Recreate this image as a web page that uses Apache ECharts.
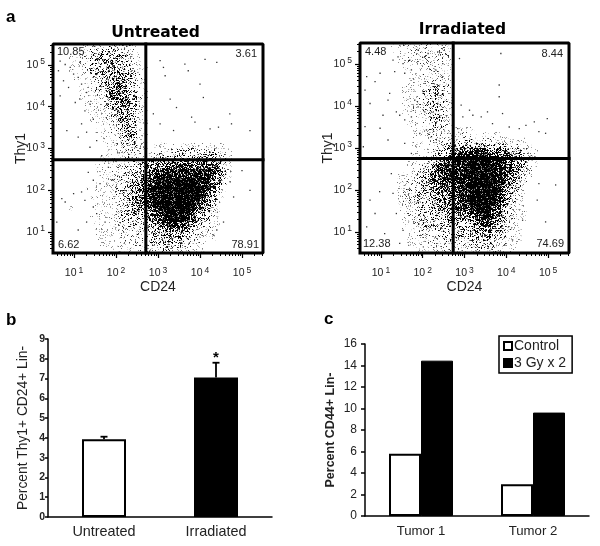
<!DOCTYPE html>
<html><head><meta charset="utf-8">
<style>html,body{margin:0;padding:0;background:#fff}#c{width:600px;height:546px}</style>
<script src="https://cdn.jsdelivr.net/npm/echarts@6/dist/echarts.min.js"></script>
</head><body><div id="c"></div>
<script>
// Density of the flow plots, read by eye: 40 x 40 cells, 1/8 decade each, top row first, ink level 0-9
const densityUntreated = [
"0000011223 3322211000 0000000000 0000000000",
"0000112334 3433221000 0000000000 0000000000",
"0001122344 4443321000 0000000000 0000000000",
"0001122344 4544321000 0000000000 0000000000",
"0001112344 5544321100 0000000000 0000000000",
"0001112334 4554432100 0000000000 0000000000",
"0000111233 4555432100 0000000000 0000000000",
"0000011223 4565432100 0000000000 0000000000",
"0000011133 5666432100 0000000000 0000000000",
"0000011123 4666532100 0000000000 0000000000",
"0000011122 4566542100 0000000000 0000000000",
"0000001112 3456542100 0000000000 0000000000",
"0000001112 2455542100 0000000000 0000000000",
"0000001111 2345541100 0000000000 0000000000",
"0000000111 2245442100 0000000000 0000000000",
"0000000011 1234541100 0000000000 0000000000",
"0000000011 1234541100 0000000000 0000000000",
"0000000001 1134541100 0000000000 0000000000",
"0000000001 1123441100 1000000000 0000000000",
"0000000000 1123332101 1111111111 1110000000",
"0000000000 1122322112 2223333333 3211000000",
"0000000001 1122322222 3334444444 4321000000",
"0000000001 1112233344 5666666666 6531000000",
"0000000011 1123334456 6777777777 7531000000",
"0000000011 1223344467 7888888888 8642000000",
"0000000011 1233444578 8888888888 7531000000",
"0000000011 1223345688 9999999988 6531000000",
"0000001011 1233446689 9999999998 6420000000",
"0000000011 1233456789 9999999987 5310000000",
"0000000111 1223456789 9999999986 4310000000",
"0000000011 1223456789 9999999875 3100000000",
"0001000011 1123445678 9999999764 2100000000",
"0000000011 1123344567 8999998653 2100000000",
"0000000111 1223334456 7899987543 1100000000",
"0000000111 1122333345 6777765432 1100000000",
"0000000011 1122223344 5566654322 1000000000",
"0000000011 1112223334 4455543321 1000000000",
"0000000011 1112222233 4444432211 1000000000",
"0000000001 1111122222 3333322110 0000000000",
"0000000000 1111112222 2332221110 0000000000"
];
const densityIrradiated = [
"0000001122 2222222100 0000000000 0000000000",
"0000001112 2222222100 0000000000 0000000000",
"0000000112 2222222100 0000000000 0000000000",
"0000000112 1222221100 0000000000 0000000000",
"0000000011 1112221100 0000000000 0000000000",
"0000000011 1112221100 0000000000 0000000000",
"0000000001 1122222100 0000000000 0000000000",
"0000000001 1122222100 0000000000 0000000000",
"0000000011 1123333100 0000000000 0000000000",
"0000000011 1133332100 0000000000 0000000000",
"0000000011 1233432100 0000000000 0000000000",
"0000000011 2233432100 0000000000 0000000000",
"0000000011 2233432100 0000000000 0000000000",
"0000000011 1233332100 0000000000 0000000000",
"0000000001 1123332100 0000000000 0000000000",
"0000000001 1122332100 0000000000 0000000000",
"0000000000 1122332111 1100000000 0000000000",
"0000000000 1112222112 2211111000 0000000000",
"0000000000 1112222223 3322221111 1100000000",
"0000000000 1111223334 4444443322 2110000000",
"0000000000 0111234566 6777666544 3211000000",
"0000000000 1111345678 8888877665 4321000000",
"0000000001 1122457788 8999988876 5421000000",
"0000000001 1234678888 9999998876 6421000000",
"0000000011 1245678888 9999998876 5320000000",
"0000000112 2345678888 9999998865 4210000000",
"0000000112 2345677788 8999998864 3200000000",
"0000000122 3344667778 8999999754 3100000000",
"0000000123 3344566778 8999999754 2100000000",
"0000000123 3334566678 8999998643 2100000000",
"0000000122 3334456678 8999998633 1100000000",
"0000000112 2334456677 7999987432 1100000000",
"0000000012 2334445566 6789976432 1100000000",
"0000000012 2333445555 5678765332 1100000000",
"0000000011 2233334444 4567764321 1000000000",
"0000000011 1223333334 4556654321 1000000000",
"0000000001 1222233334 3445544321 1000000000",
"0000000001 1122223333 3344443211 1000000000",
"0000000001 1112222222 2333332211 0000000000",
"0000000000 1112222221 2223222111 0000000000"
];
// Individually legible events, [log10 CD24, log10 Thy1]
const eventsUntreated = [
[0.67,5.09],[0.79,5.01],[0.63,4.86],[0.91,4.94],[0.99,4.78],[0.75,4.62],[1.10,4.70],[1.18,4.54],[0.87,4.46],[1.30,4.34],[1.14,4.18],[1.03,4.10],[1.38,4.06],[1.26,3.90],[1.46,3.70],[1.18,3.59],[0.83,3.43],[1.30,3.39],[1.10,3.27],[1.54,3.19],[1.38,3.03],[1.66,2.83],[0.67,4.26],
[3.64,5.02],[3.72,4.86],[4.12,5.13],[4.40,5.06],[3.13,4.94],[3.17,4.74],[3.05,5.10],[4.00,4.54],[4.08,4.22],[3.29,4.18],[3.44,3.98],[3.80,3.75],[3.88,3.63],[4.71,3.83],[4.75,3.59],[5.19,3.43],[4.24,3.47],[4.44,3.51],[3.37,3.43],[3.05,3.59],[2.89,3.83],
[0.59,1.24],[0.71,1.80],[0.99,1.92],[1.18,1.96],[1.26,1.76],[0.79,1.72],[1.34,2.43],[1.46,2.24],[1.62,2.16],[1.46,1.60],[1.30,1.24],[1.54,1.44],[1.74,1.24],[1.10,1.05],[1.82,2.55],[1.90,2.24],
[5.19,2.00],[4.72,2.20],[5.00,2.47],[4.56,1.24],[4.40,1.05],[4.32,0.93],[4.80,1.84]
];
const eventsIrradiated = [
[0.66,4.70],[0.86,4.58],[0.98,4.78],[1.29,5.09],[1.41,5.17],[1.53,5.01],[1.69,5.09],[1.89,5.33],[2.13,5.25],[2.36,5.29],[2.48,5.01],[1.57,4.78],[1.73,4.86],[1.33,4.82],[1.21,4.30],[0.62,4.38],[0.74,4.06],[1.17,4.14],[1.05,3.78],[1.37,3.86],[1.45,3.78],[1.57,3.67],[1.73,3.74],[1.89,3.98],[2.05,3.86],[2.21,3.86],[2.28,4.46],[2.17,4.38],[2.01,4.30],[1.81,4.14],[2.36,4.06],[2.32,3.59],[2.09,3.43],[1.93,3.35],[2.21,3.27],[1.57,3.11],[1.73,2.87],[1.17,3.19],[0.98,3.47],[0.62,3.51],[0.58,3.03],
[3.87,5.25],[2.88,5.13],[3.83,4.50],[3.83,4.22],[2.92,4.02],[3.12,3.90],[3.55,3.86],[3.40,3.74],[3.91,3.82],[2.96,3.74],[3.20,3.78],[4.98,3.70],[4.67,3.62],[4.31,3.46],[4.47,3.54],[4.78,3.39],[4.94,3.35],[3.67,3.58],[4.07,3.50],[2.84,3.46],
[5.18,2.12],[4.94,1.24],[4.78,2.15],[4.74,1.76],[4.39,1.28],[4.15,0.81],
[0.97,1.96],[0.74,1.76],[0.86,1.44],[0.66,1.12],[1.29,1.92],[1.25,2.39],[1.09,0.96],[1.45,0.73],[1.37,1.44],[1.53,1.04]
];
const gatesUntreated = [513, 537];
const gatesIrradiated = [537, 562];
const quadrantUntreated = ["10.85","3.61","6.62","78.91"];
const quadrantIrradiated = ["4.48","8.44","12.38","74.69"];
const flowRange = [3.162, 316228];
const flowMajor = [10,100,1000,10000,100000];
const flowMinor = [4,5,6,7,8,9,20,30,40,50,60,70,80,90,200,300,400,500,600,700,800,900,2000,3000,4000,5000,6000,7000,8000,9000,20000,30000,40000,50000,60000,70000,80000,90000,200000,300000];

const barCategories = ["Untreated","Irradiated"];
const barValues = [3.93,7.05];
const barErrorTops = [4.06,7.8];
const barMarks = ["","*"];
const barColors = ["#ffffff","#000000"];

const tumorCategories = ["Tumor 1","Tumor 2"];
const tumorControl = [5.78,2.96];
const tumorDosed = [14.45,9.62];

const FONT = '"Liberation Sans", Arial, sans-serif';
const INK = '#222';

// Ink coverage of each density level, drawn through a fixed halftone screen (texture only, not data)
const levelCoverage = [0,0.05,0.12,0.21,0.31,0.42,0.55,0.71,0.86,0.98];
const SCREEN_SIZE = 256;
const screenTile = new Float32Array(SCREEN_SIZE*SCREEN_SIZE);
for(let y=0;y<SCREEN_SIZE;y++)for(let x=0;x<SCREEN_SIZE;x++){
  const s=Math.sin(x*12.9898+y*78.233)*43758.5453;
  screenTile[y*SCREEN_SIZE+x]=s-Math.floor(s);
}
function halftoneTile(cov){
  const n=SCREEN_SIZE, cv=document.createElement('canvas'); cv.width=cv.height=n;
  const ctx=cv.getContext('2d'), im=ctx.createImageData(n,n);
  for(let y=0;y<n;y++)for(let x=0;x<n;x++){
    const ink=Math.max(0,Math.min(1,(cov-screenTile[y*n+x])/0.22+0.35));
    const g=Math.round(255*(1-ink)), i=(y*n+x)*4;
    im.data[i]=im.data[i+1]=im.data[i+2]=g; im.data[i+3]=255;
  }
  ctx.putImageData(im,0,0);
  return cv;
}
const tiles=levelCoverage.map(c=>c?{image:halftoneTile(c),repeat:'repeat'}:null);

function cellsOf(rows){
  const out=[];
  rows.forEach((s,r)=>{
    s.replace(/ /g,'').split('').forEach((ch,c)=>{
      const lv=+ch; if(!lv) return;
      const xa=0.5+c*0.125, yb=5.5-(r+1)*0.125;
      out.push([10**xa,10**yb,10**(xa+0.125),10**(yb+0.125),lv]);
    });
  });
  return out;
}
function renderCell(params,api){
  const a=api.coord([api.value(0),api.value(1)]), b=api.coord([api.value(2),api.value(3)]);
  const x=Math.round(a[0]), y=Math.round(b[1]);
  return {type:'rect',shape:{x:x,y:y,width:Math.round(b[0])-x,height:Math.round(a[1])-y},style:{fill:tiles[api.value(4)]}};
}
function flowAxes(idx){
  const sup={b:{fontSize:10.5,color:INK,fontFamily:FONT},s:{fontSize:8.5,color:INK,fontFamily:FONT,verticalAlign:'bottom',padding:[0,0,6,2]}};
  const fmt=v=>`{b|10}{s|${Math.round(Math.log10(v))}}`;
  const base={type:'log',logBase:10,min:flowRange[0],max:flowRange[1],gridIndex:idx,splitLine:{show:false},
    axisLine:{show:true,lineStyle:{color:'#000',width:1}}};
  const major=(name,gap,margin)=>Object.assign({},base,{name,nameLocation:'middle',nameGap:gap,nameMoveOverlap:false,
    nameTextStyle:{fontFamily:FONT,fontSize:14,color:INK},
    axisTick:{length:5,lineStyle:{color:'#000',width:1.2},customValues:flowMajor},
    axisLabel:{customValues:flowMajor,formatter:fmt,rich:sup,margin,fontFamily:FONT,showMinLabel:true,showMaxLabel:true}});
  const minor=pos=>Object.assign({},base,{position:pos,axisLabel:{show:false},axisTick:{length:3,lineStyle:{color:'#000',width:1},customValues:flowMinor}});
  return {x:[Object.assign(major('CD24',27,13),{position:'bottom'}),minor('bottom')],y:[Object.assign(major('Thy1',25,8),{position:'left'}),minor('left')]};
}
const A0=flowAxes(0), A1=flowAxes(1);
function flowSeries(axisBase,rows,events,gates){
  const xi=axisBase, yi=axisBase;
  const ev=events.map(p=>[10**p[0],10**p[1]]);
  const line=(data)=>({type:'line',xAxisIndex:xi,yAxisIndex:yi,data,symbol:'none',silent:true,z:5,clip:false,animation:false,lineStyle:{color:'#000',width:3,cap:'square'}});
  const lo=flowRange[0], hi=flowRange[1];
  return [
    {type:'custom',xAxisIndex:xi,yAxisIndex:yi,data:cellsOf(rows),renderItem:renderCell,encode:{x:[0,2],y:[1,3]},clip:true,silent:true,z:1,animation:false},
    {type:'scatter',xAxisIndex:xi,yAxisIndex:yi,data:ev,symbol:'rect',symbolSize:1.3,itemStyle:{color:'#000'},silent:true,z:3,animation:false},
    line([[gates[0],lo],[gates[0],hi]]),
    line([[lo,gates[1]],[hi,gates[1]]]),
    line([[lo,lo],[hi,lo],[hi,hi],[lo,hi],[lo,lo]])
  ];
}
const txt=(x,y,t,o)=>({type:'text',x,y,z:20,style:Object.assign({text:t,fill:INK,font:`11px ${FONT}`,textVerticalAlign:'middle'},o||{})});
const graphics=[
  txt(6,17,'a',{font:`bold 17px ${FONT}`,fill:'#000'}),
  txt(6,320,'b',{font:`bold 17px ${FONT}`,fill:'#000'}),
  txt(324,319,'c',{font:`bold 17px ${FONT}`,fill:'#000'}),
  txt(155.5,33,'Untreated',{font:`bold 15.5px "DejaVu Sans"`,fill:'#000',textAlign:'center'}),
  txt(462.5,30,'Irradiated',{font:`bold 15.5px "DejaVu Sans"`,fill:'#000',textAlign:'center'}),
  txt(57,52,quadrantUntreated[0]),txt(257,54,quadrantUntreated[1],{textAlign:'right'}),
  txt(58,245,quadrantUntreated[2]),txt(259,245,quadrantUntreated[3],{textAlign:'right'}),
  txt(365,52,quadrantIrradiated[0]),txt(563,54,quadrantIrradiated[1],{textAlign:'right'}),
  txt(363,244,quadrantIrradiated[2]),txt(564,244,quadrantIrradiated[3],{textAlign:'right'})
];
const plainAxis={axisLine:{lineStyle:{color:'#000',width:1.5}},splitLine:{show:false}};
const option={
  animation:false,backgroundColor:'#fff',textStyle:{fontFamily:FONT},
  grid:[
    {left:53,top:44,width:210,height:209},
    {left:360,top:43,width:209,height:210},
    {left:48,top:339,width:224,height:178},
    {left:365,top:344,width:224,height:172}
  ],
  xAxis:[A0.x[0],A0.x[1],A1.x[0],A1.x[1],
    Object.assign({},plainAxis,{type:'category',gridIndex:2,data:barCategories,axisTick:{length:3,alignWithLabel:false,lineStyle:{color:'#000',width:1.5}},axisLabel:{fontSize:14.4,color:INK,margin:8,fontFamily:FONT}}),
    Object.assign({},plainAxis,{type:'category',gridIndex:3,data:tumorCategories,axisTick:{length:4,lineStyle:{color:'#000',width:1.5}},axisLabel:{fontSize:13.2,color:INK,margin:9,fontFamily:FONT}})
  ],
  yAxis:[A0.y[0],A0.y[1],A1.y[0],A1.y[1],
    Object.assign({},plainAxis,{type:'value',gridIndex:2,min:0,max:9,interval:1,name:'Percent Thy1+ CD24+ Lin-',nameLocation:'middle',nameGap:18,nameMoveOverlap:false,nameTextStyle:{fontSize:13.8,color:INK,fontFamily:FONT},axisLine:{show:true,lineStyle:{color:'#000',width:1.5}},axisTick:{show:true,length:3,lineStyle:{color:'#000',width:1.5}},axisLabel:{fontSize:10.5,fontWeight:'bold',color:INK,margin:3,fontFamily:FONT}}),
    Object.assign({},plainAxis,{type:'value',gridIndex:3,min:0,max:16,interval:2,name:'Percent CD44+ Lin-',nameLocation:'middle',nameGap:28,nameMoveOverlap:false,nameTextStyle:{fontSize:12.5,fontWeight:'bold',color:INK,fontFamily:FONT},axisLine:{show:true,lineStyle:{color:'#000',width:1.5}},axisTick:{show:true,length:4,lineStyle:{color:'#000',width:1.5}},axisLabel:{fontSize:12,color:INK,margin:8,fontFamily:FONT}})
  ],
  legend:{data:[{name:'Control',icon:'rect'},{name:'3 Gy x 2',icon:'rect'}],left:499,top:336,orient:'vertical',padding:[3,6,3,4],itemGap:3,itemWidth:8,itemHeight:8,borderColor:'#000',borderWidth:1.5,backgroundColor:'#fff',textStyle:{fontSize:14,color:INK,padding:[0,0,0,-3],fontFamily:FONT},z:10},
  graphic:graphics,
  series:[
    ...flowSeries(0,densityUntreated,eventsUntreated,gatesUntreated),
    ...flowSeries(2,densityIrradiated,eventsIrradiated,gatesIrradiated),
    {type:'bar',xAxisIndex:4,yAxisIndex:4,barWidth:44,data:barValues.map((v,i)=>({value:v,itemStyle:{color:barColors[i],borderColor:'#000',borderWidth:2}}))},
    {type:'custom',xAxisIndex:4,yAxisIndex:4,z:4,data:barErrorTops.map((v,i)=>[i,barValues[i],v,barMarks[i]]),encode:{x:0,y:2},
      renderItem(p,api){
        const lo=api.coord([api.value(0),api.value(1)]), hi=api.coord([api.value(0),api.value(2)]);
        const st={stroke:'#000',lineWidth:1.8,fill:null};
        return {type:'group',children:[
          {type:'line',shape:{x1:hi[0],y1:lo[1],x2:hi[0],y2:hi[1]},style:st},
          {type:'line',shape:{x1:hi[0]-3.5,y1:hi[1],x2:hi[0]+3.5,y2:hi[1]},style:st},
          {type:'text',x:hi[0],y:hi[1]-5,style:{text:api.value(3)||'',font:`bold 15px ${FONT}`,fill:'#000',textAlign:'center',textVerticalAlign:'middle'}}
        ]};
      }},
    {type:'bar',name:'Control',xAxisIndex:5,yAxisIndex:5,barWidth:32,barGap:0,data:tumorControl,itemStyle:{color:'#fff',borderColor:'#000',borderWidth:2}},
    {type:'bar',name:'3 Gy x 2',xAxisIndex:5,yAxisIndex:5,barWidth:32,barGap:0,data:tumorDosed,itemStyle:{color:'#000',borderColor:'#000',borderWidth:1}}
  ]
};
echarts.init(document.getElementById('c'),null,{renderer:'canvas'}).setOption(option);
</script></body></html>
